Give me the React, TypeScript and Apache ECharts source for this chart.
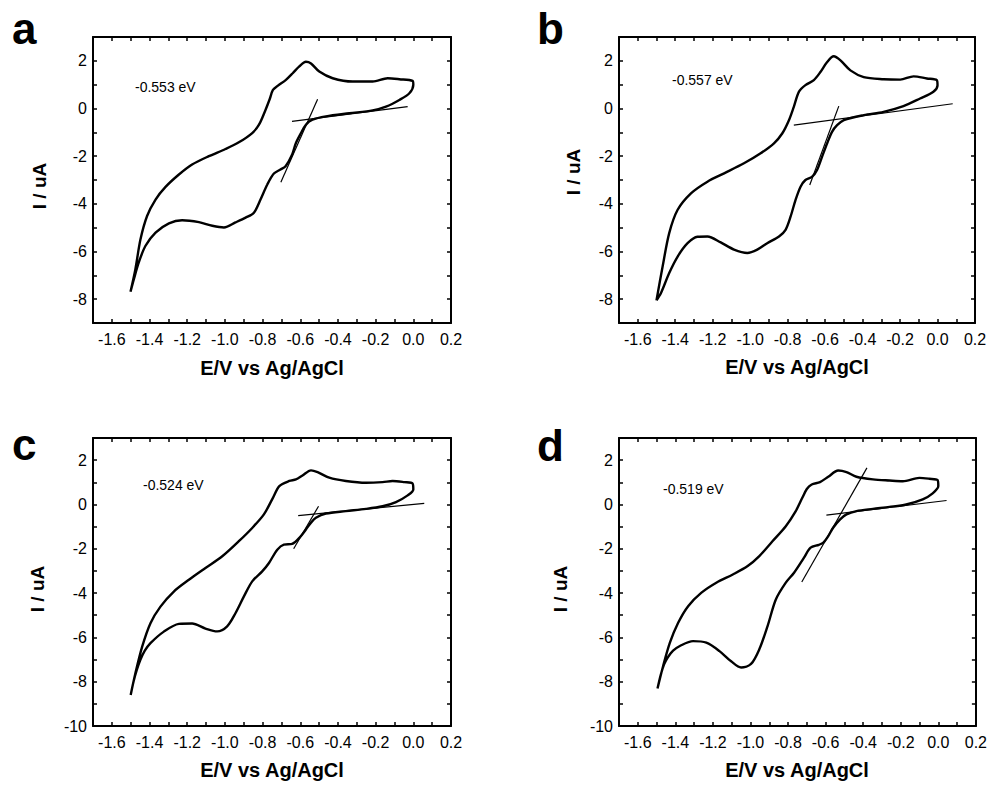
import React, { useEffect, useRef } from "react";
import * as echarts from "echarts";

// ---- Data ----
const panelLetters = ["a", "b", "c", "d"];
const onsetLabels = ["-0.553 eV", "-0.557 eV", "-0.524 eV", "-0.519 eV"];
const xTitle = "E/V vs Ag/AgCl";
const yTitle = "I / uA";
const xRange = [-1.7, 0.2];
const yMinByPanel = [-9, -9, -10, -10];
const yMax = 3;

// cyclic voltammograms: start at the -1.5 V vertex, outer branch to 0 V, then back
const cvA: number[][] = [
  [-1.501, -7.69], [-1.475, -6.74], [-1.448, -5.49], [-1.413, -4.51], [-1.368, -3.82], [-1.315, -3.29],
  [-1.244, -2.77], [-1.174, -2.35], [-1.085, -2.0], [-0.997, -1.7], [-0.926, -1.42], [-0.855, -1.03],
  [-0.819, -0.68], [-0.784, -0.05], [-0.762, 0.4], [-0.745, 0.78], [-0.72, 0.95], [-0.676, 1.2],
  [-0.64, 1.48], [-0.605, 1.77], [-0.57, 1.96], [-0.543, 1.89], [-0.499, 1.55], [-0.428, 1.27],
  [-0.322, 1.13], [-0.216, 1.13], [-0.136, 1.27], [-0.074, 1.23], [-0.004, 1.16], [0.0, 1.0],
  [-0.021, 0.64], [-0.074, 0.36], [-0.145, 0.08], [-0.216, -0.08], [-0.34, -0.2], [-0.464, -0.33],
  [-0.535, -0.47], [-0.57, -0.68], [-0.596, -1.03], [-0.623, -1.45], [-0.643, -1.93], [-0.678, -2.42],
  [-0.705, -2.56], [-0.74, -2.73], [-0.775, -3.19], [-0.811, -3.82], [-0.846, -4.37], [-0.89, -4.58],
  [-0.944, -4.78], [-1.005, -4.99], [-1.067, -4.92], [-1.138, -4.77], [-1.227, -4.69], [-1.297, -4.82],
  [-1.368, -5.21], [-1.422, -5.77], [-1.457, -6.46], [-1.483, -7.16], [-1.501, -7.69],
];
const cvB: number[][] = [
  [-1.5, -8.05], [-1.467, -6.62], [-1.432, -5.23], [-1.387, -4.25], [-1.316, -3.56], [-1.228, -3.07],
  [-1.139, -2.72], [-1.033, -2.3], [-0.944, -1.88], [-0.873, -1.46], [-0.829, -1.05], [-0.793, -0.49],
  [-0.767, 0.07], [-0.74, 0.7], [-0.705, 0.98], [-0.66, 1.19], [-0.625, 1.53], [-0.589, 1.95],
  [-0.554, 2.19], [-0.518, 2.02], [-0.465, 1.6], [-0.394, 1.32], [-0.288, 1.23], [-0.199, 1.21],
  [-0.128, 1.35], [-0.057, 1.26], [-0.004, 1.19], [0.0, 0.98], [-0.022, 0.7], [-0.093, 0.42],
  [-0.182, 0.1], [-0.288, -0.14], [-0.394, -0.28], [-0.5, -0.49], [-0.536, -0.7], [-0.563, -0.98],
  [-0.589, -1.46], [-0.616, -2.02], [-0.643, -2.58], [-0.669, -2.86], [-0.705, -3.0], [-0.731, -3.28],
  [-0.758, -3.84], [-0.784, -4.53], [-0.811, -5.09], [-0.846, -5.37], [-0.909, -5.65], [-0.962, -5.92],
  [-1.015, -6.06], [-1.086, -5.92], [-1.157, -5.62], [-1.228, -5.37], [-1.281, -5.38], [-1.334, -5.65],
  [-1.387, -6.21], [-1.432, -6.9], [-1.476, -7.74], [-1.5, -8.05],
];
const cvC: number[][] = [
  [-1.5, -8.6], [-1.475, -7.62], [-1.439, -6.42], [-1.395, -5.36], [-1.342, -4.61], [-1.271, -3.93],
  [-1.191, -3.4], [-1.103, -2.87], [-1.014, -2.34], [-0.926, -1.66], [-0.855, -1.06], [-0.793, -0.45],
  [-0.745, 0.3], [-0.711, 0.83], [-0.658, 1.06], [-0.623, 1.13], [-0.588, 1.31], [-0.543, 1.54],
  [-0.508, 1.46], [-0.446, 1.21], [-0.358, 1.06], [-0.251, 0.98], [-0.163, 1.01], [-0.11, 1.06],
  [-0.048, 1.01], [-0.004, 0.95], [0.0, 0.68], [-0.03, 0.41], [-0.092, 0.11], [-0.163, -0.08],
  [-0.251, -0.2], [-0.358, -0.3], [-0.464, -0.41], [-0.517, -0.6], [-0.544, -0.83], [-0.57, -1.13],
  [-0.605, -1.51], [-0.643, -1.78], [-0.687, -1.81], [-0.722, -2.04], [-0.766, -2.64], [-0.802, -3.02],
  [-0.855, -3.47], [-0.899, -4.15], [-0.944, -4.91], [-0.988, -5.5], [-1.041, -5.73], [-1.103, -5.6],
  [-1.174, -5.37], [-1.244, -5.39], [-1.324, -5.74], [-1.395, -6.26], [-1.425, -6.6], [-1.448, -7.0],
  [-1.468, -7.48], [-1.485, -8.0], [-1.5, -8.6],
];
const cvD: number[][] = [
  [-1.495, -8.31], [-1.465, -7.29], [-1.429, -6.24], [-1.385, -5.34], [-1.332, -4.59], [-1.261, -3.98],
  [-1.182, -3.53], [-1.094, -3.16], [-1.015, -2.78], [-0.953, -2.33], [-0.883, -1.66], [-0.812, -0.98],
  [-0.759, -0.3], [-0.724, 0.3], [-0.7, 0.7], [-0.674, 0.9], [-0.63, 1.01], [-0.586, 1.25],
  [-0.533, 1.53], [-0.489, 1.46], [-0.436, 1.25], [-0.348, 1.13], [-0.26, 1.08], [-0.189, 1.05],
  [-0.101, 1.2], [-0.048, 1.16], [-0.004, 1.1], [0.0, 0.83], [-0.03, 0.5], [-0.083, 0.23],
  [-0.171, 0.0], [-0.26, -0.11], [-0.348, -0.2], [-0.436, -0.3], [-0.489, -0.45], [-0.524, -0.68],
  [-0.56, -1.05], [-0.586, -1.43], [-0.612, -1.72], [-0.636, -1.82], [-0.68, -1.95], [-0.715, -2.4],
  [-0.768, -3.08], [-0.812, -3.53], [-0.865, -4.29], [-0.909, -5.49], [-0.953, -6.54], [-0.997, -7.2],
  [-1.05, -7.36], [-1.103, -7.08], [-1.165, -6.62], [-1.235, -6.24], [-1.306, -6.17], [-1.376, -6.39],
  [-1.412, -6.6], [-1.44, -6.9], [-1.46, -7.22], [-1.478, -7.7], [-1.495, -8.31],
];

// onset tangent lines (baseline + rising slope) per panel
const baselineA = [[-0.644, -0.54], [-0.03, 0.08]];
const slopeA = [[-0.703, -3.09], [-0.508, 0.39]];
const baselineB = [[-0.767, -0.7], [0.081, 0.2]];
const slopeB = [[-0.682, -3.21], [-0.527, 0.1]];
const baselineC = [[-0.611, -0.5], [0.058, 0.05]];
const slopeC = [[-0.635, -2.0], [-0.503, -0.08]];
const baselineD = [[-0.596, -0.48], [0.044, 0.18]];
const slopeD = [[-0.727, -3.5], [-0.38, 1.65]];

const curves = [cvA, cvB, cvC, cvD];
const tangents = [
  [baselineA, slopeA],
  [baselineB, slopeB],
  [baselineC, slopeC],
  [baselineD, slopeD],
];

// ---- Layout ----
const FONT = '"Liberation Sans", Arial, Helvetica, sans-serif';
const grids = [
  { left: 93, top: 37, width: 358, height: 286 },
  { left: 619, top: 37, width: 356, height: 286 },
  { left: 93, top: 438, width: 358, height: 288 },
  { left: 619, top: 438, width: 357, height: 288 },
];
const letterPos = [
  [12, 28],
  [537, 28],
  [12, 444],
  [537, 445],
];
const onsetPos = [
  [135, 87],
  [672, 80],
  [143, 485],
  [663, 489],
];
const xTitlePos = [
  [272, 368],
  [797, 367],
  [272, 770],
  [797, 770],
];
const yTitlePos = [
  [39, 186],
  [573, 172],
  [37, 589],
  [560, 589],
];

const fmtX = (v: number) => {
  const k = Math.round(v * 10);
  return k % 2 === 0 ? (k / 10).toFixed(1) : "";
};
const fmtY = (v: number) => {
  const k = Math.round(v);
  return k % 2 === 0 ? String(k) : "";
};

const axisLine = { show: true, onZero: false, lineStyle: { color: "#000", width: 2 } };
const axisTick = { show: true, inside: true, length: 4, lineStyle: { color: "#000", width: 1.5 } };

export default function App() {
  const ref = useRef<HTMLDivElement>(null);
  useEffect(() => {
    if (!ref.current) return;
    const chart = echarts.init(ref.current, null, { renderer: "svg" });
    const xAxis: any[] = [];
    const yAxis: any[] = [];
    const series: any[] = [];
    grids.forEach((_, i) => {
      xAxis.push({
        gridIndex: i, type: "value", min: xRange[0], max: xRange[1], interval: 0.1, position: "bottom",
        axisLine, axisTick, splitLine: { show: false },
        axisLabel: { show: true, margin: 8, color: "#000", fontSize: 16, fontFamily: FONT, formatter: fmtX },
      });
      xAxis.push({
        gridIndex: i, type: "value", min: xRange[0], max: xRange[1], interval: 0.1, position: "top",
        axisLine, axisTick, splitLine: { show: false }, axisLabel: { show: false },
      });
      yAxis.push({
        gridIndex: i, type: "value", min: yMinByPanel[i], max: yMax, interval: 1, position: "left",
        axisLine, axisTick, splitLine: { show: false },
        axisLabel: { show: true, margin: 6, color: "#000", fontSize: 16, fontFamily: FONT, formatter: fmtY },
      });
      yAxis.push({
        gridIndex: i, type: "value", min: yMinByPanel[i], max: yMax, interval: 1, position: "right",
        axisLine, axisTick, splitLine: { show: false }, axisLabel: { show: false },
      });
      series.push({
        type: "line", xAxisIndex: 2 * i, yAxisIndex: 2 * i, data: curves[i], smooth: 0.3,
        showSymbol: false, symbol: "none", silent: true,
        lineStyle: { color: "#000", width: 2.4 },
      });
      tangents[i].forEach((seg) => {
        series.push({
          type: "line", xAxisIndex: 2 * i, yAxisIndex: 2 * i, data: seg,
          showSymbol: false, symbol: "none", silent: true,
          lineStyle: { color: "#000", width: 1.2 },
        });
      });
    });
    const graphic: any[] = [];
    panelLetters.forEach((t, i) => {
      graphic.push({
        type: "text", x: letterPos[i][0], y: letterPos[i][1],
        style: { text: t, fill: "#000", font: `bold 44px ${FONT}`, textAlign: "left", textVerticalAlign: "middle" },
      });
      graphic.push({
        type: "text", x: onsetPos[i][0], y: onsetPos[i][1],
        style: { text: onsetLabels[i], fill: "#000", font: `14px ${FONT}`, textAlign: "left", textVerticalAlign: "middle" },
      });
      graphic.push({
        type: "text", x: xTitlePos[i][0], y: xTitlePos[i][1],
        style: { text: xTitle, fill: "#000", font: `bold 20px ${FONT}`, textAlign: "center", textVerticalAlign: "middle" },
      });
      graphic.push({
        type: "text", x: yTitlePos[i][0], y: yTitlePos[i][1], rotation: Math.PI / 2,
        style: { text: yTitle, fill: "#000", font: `bold 19px ${FONT}`, textAlign: "center", textVerticalAlign: "middle" },
      });
    });
    chart.setOption({
      animation: false,
      backgroundColor: "#fff",
      grid: grids,
      xAxis,
      yAxis,
      series,
      graphic,
    });
    return () => chart.dispose();
  }, []);
  return (
    <div
      ref={ref}
      style={{ position: "fixed", left: 0, top: 0, width: 990, height: 785, background: "#fff" }}
    />
  );
}
